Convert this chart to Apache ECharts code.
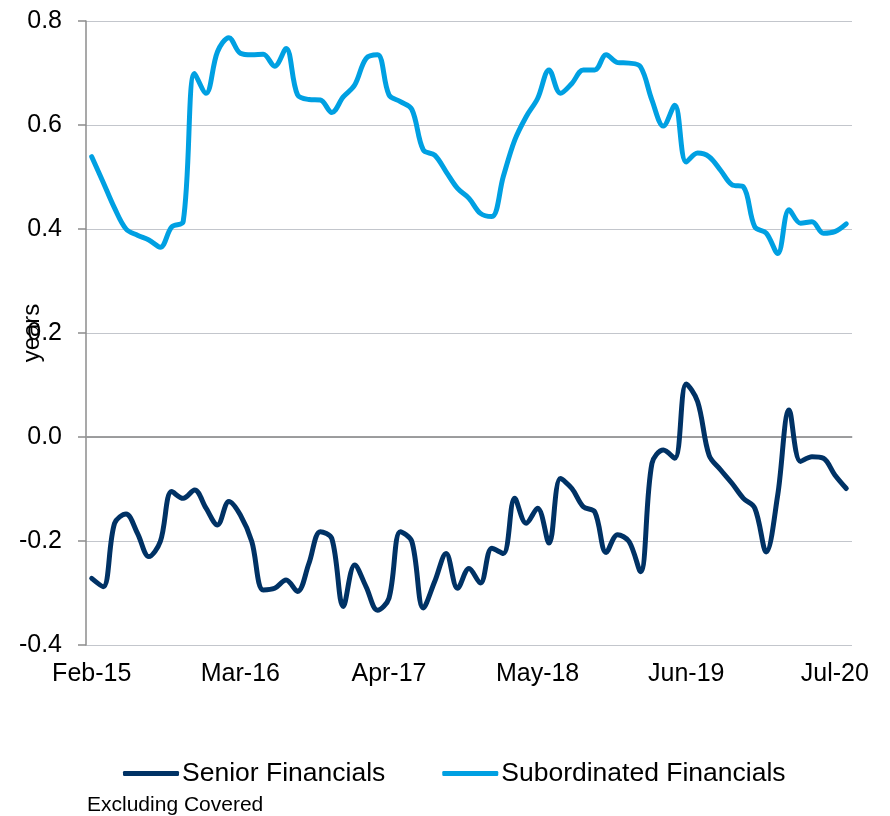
<!DOCTYPE html>
<html>
<head>
<meta charset="utf-8">
<title>Financials duration vs benchmark</title>
<script src="https://cdn.jsdelivr.net/npm/echarts@6/dist/echarts.min.js"></script>
<style>
  html, body { margin: 0; padding: 0; background: #ffffff; }
  #chart { width: 890px; height: 816px; }
</style>
</head>
<body>
<div id="chart"></div>
<script>
// Monthly observations, Feb-15 to Aug-20
const months = [
  'Feb-15','Mar-15','Apr-15','May-15','Jun-15','Jul-15','Aug-15','Sep-15','Oct-15','Nov-15','Dec-15',
  'Jan-16','Feb-16','Mar-16','Apr-16','May-16','Jun-16','Jul-16','Aug-16','Sep-16','Oct-16','Nov-16','Dec-16',
  'Jan-17','Feb-17','Mar-17','Apr-17','May-17','Jun-17','Jul-17','Aug-17','Sep-17','Oct-17','Nov-17','Dec-17',
  'Jan-18','Feb-18','Mar-18','Apr-18','May-18','Jun-18','Jul-18','Aug-18','Sep-18','Oct-18','Nov-18','Dec-18',
  'Jan-19','Feb-19','Mar-19','Apr-19','May-19','Jun-19','Jul-19','Aug-19','Sep-19','Oct-19','Nov-19','Dec-19',
  'Jan-20','Feb-20','Mar-20','Apr-20','May-20','Jun-20','Jul-20','Aug-20'
];

// Senior Financials (years)
const seniorFinancials = [
  -0.272, -0.288, -0.166, -0.148, -0.185, -0.230, -0.201, -0.105, -0.118, -0.102, -0.137,
  -0.169, -0.124, -0.150, -0.201, -0.294, -0.291, -0.275, -0.297, -0.243, -0.182, -0.195,
  -0.326, -0.246, -0.288, -0.333, -0.310, -0.182, -0.201, -0.329, -0.278, -0.224, -0.291,
  -0.253, -0.281, -0.214, -0.224, -0.118, -0.166, -0.137, -0.204, -0.080, -0.099, -0.134,
  -0.144, -0.222, -0.188, -0.201, -0.259, -0.051, -0.025, -0.041, 0.102, 0.068, -0.035,
  -0.063, -0.089, -0.118, -0.137, -0.221, -0.112, 0.052, -0.047, -0.038, -0.041, -0.073,
  -0.099
];

// Subordinated Financials (years)
const subordinatedFinancials = [
  0.539, 0.490, 0.440, 0.400, 0.388, 0.379, 0.365, 0.404, 0.414, 0.699, 0.661,
  0.741, 0.768, 0.738, 0.735, 0.736, 0.713, 0.747, 0.658, 0.649, 0.648, 0.624,
  0.654, 0.677, 0.728, 0.735, 0.658, 0.645, 0.630, 0.552, 0.542, 0.510, 0.478,
  0.459, 0.430, 0.424, 0.501, 0.571, 0.616, 0.651, 0.706, 0.661, 0.680, 0.706,
  0.706, 0.735, 0.720, 0.719, 0.712, 0.648, 0.598, 0.638, 0.529, 0.546, 0.539,
  0.513, 0.485, 0.481, 0.404, 0.392, 0.353, 0.437, 0.411, 0.414, 0.392, 0.395,
  0.410
];

const yTicks = { min: -0.4, max: 0.8, step: 0.2 };
const legendNames = ['Senior Financials', 'Subordinated Financials'];
const footnote = 'Excluding Covered';

const FONT = '"Liberation Sans", Arial, sans-serif';
const NAVY = '#003265';
const SKY = '#00a0e2';

const chart = echarts.init(document.getElementById('chart'), null, { renderer: 'canvas' });

chart.setOption({
  backgroundColor: '#ffffff',
  animation: false,
  textStyle: { fontFamily: FONT, color: '#000000' },
  grid: { left: 86, right: 38, top: 21, bottom: 171, containLabel: false, outerBoundsMode: 'none' },
  legend: {
    data: legendNames,
    left: 118,
    top: 755,
    itemWidth: 56,
    itemHeight: 5,
    itemGap: 57,
    icon: 'roundRect',
    textStyle: { fontFamily: FONT, fontSize: 26.5, color: '#000000', padding: [0, 0, 0, -2] }
  },
  graphic: [{
    type: 'text',
    left: 87,
    top: 795,
    style: { text: footnote, font: '21px ' + FONT, fill: '#000000' }
  }],
  xAxis: {
    type: 'category',
    data: months,
    boundaryGap: true,
    axisLine: { show: true, lineStyle: { color: '#c3c6cc', width: 1.5 } },
    axisTick: { show: false },
    axisLabel: {
      interval: 12,
      margin: 17,
      fontSize: 25,
      fontFamily: FONT,
      color: '#000000'
    },
    splitLine: { show: false }
  },
  yAxis: {
    type: 'value',
    min: yTicks.min,
    max: yTicks.max,
    interval: yTicks.step,
    name: 'years',
    nameLocation: 'middle',
    nameGap: 42,
    nameRotate: 90,
    nameMoveOverlap: false,
    nameTextStyle: { fontSize: 24, fontFamily: FONT, color: '#000000' },
    axisLine: { show: true, lineStyle: { color: '#8c8c8c', width: 1.5 } },
    axisTick: { show: true, inside: false, length: 8, lineStyle: { color: '#8c8c8c', width: 1.5 } },
    axisLabel: {
      margin: 24,
      fontSize: 25,
      fontFamily: FONT,
      color: '#000000',
      formatter: v => v.toFixed(1)
    },
    splitLine: { show: true, lineStyle: { color: '#c3c6cc', width: 1.2 } }
  },
  series: [
    {
      name: legendNames[0],
      type: 'line',
      data: seniorFinancials,
      smooth: 0.35,
      symbol: 'none',
      lineStyle: { color: NAVY, width: 5, cap: 'round', join: 'round' },
      itemStyle: { color: NAVY },
      z: 3,
      markLine: {
        silent: true,
        symbol: 'none',
        label: { show: false },
        lineStyle: { color: '#8c8c8c', width: 1.5, type: 'solid' },
        data: [{ yAxis: 0 }],
        z: 1
      }
    },
    {
      name: legendNames[1],
      type: 'line',
      data: subordinatedFinancials,
      smooth: 0.35,
      symbol: 'none',
      lineStyle: { color: SKY, width: 5, cap: 'round', join: 'round' },
      itemStyle: { color: SKY },
      z: 3
    }
  ]
});
</script>
</body>
</html>
